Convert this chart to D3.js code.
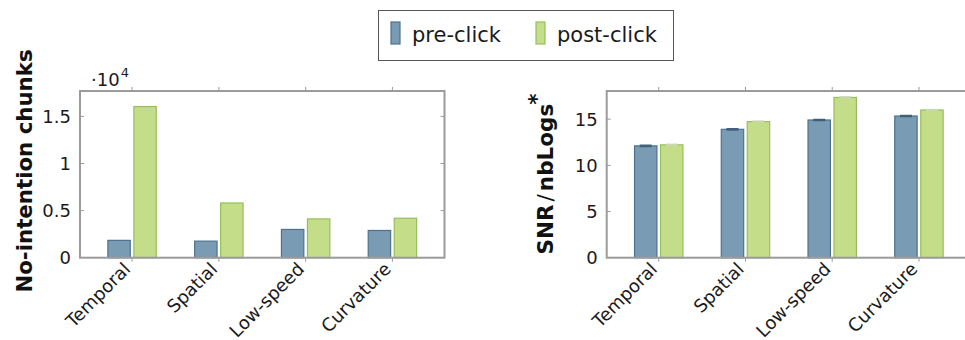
<!DOCTYPE html>
<html>
<head>
<meta charset="utf-8">
<script src="https://cdn.jsdelivr.net/npm/d3@7"></script>
<style>
  body { margin: 0; background: #fff; }
  svg { display: block; font-family: "DejaVu Sans", sans-serif; }
</style>
</head>
<body>
<svg id="chart" width="965" height="340"></svg>
<script>
// data
var categories = ["Temporal", "Spatial", "Low-speed", "Curvature"];
var seriesNames = ["pre-click", "post-click"];

// left: no-intention chunks (raw counts, axis shown in 10^4)
var chunksPre  = [1840, 1760, 3000, 2890];
var chunksPost = [16050, 5810, 4120, 4190];
var chunkTicks = [0, 5000, 10000, 15000];
var chunkTickLabels = ["0", "0.5", "1", "1.5"];

// right: SNR / nbLogs*
var snrPre  = [12.11, 13.90, 14.91, 15.34];
var snrPost = [12.22, 14.73, 17.35, 15.99];
var snrErrPre  = [0.07, 0.07, 0.06, 0.06];
var snrErrPost = [0.06, 0.06, 0.06, 0.05];
var snrTicks = [0, 5, 10, 15];

var fills   = ["#7a9bb4", "#c4dd89"];
var strokes = ["#4e7190", "#96bf5c"];
var capCols = ["#3f5f7a", "#c9d8ad"];

var svg = d3.select("#chart");

function drawPanel(opt) {
  var g = svg.append("g");
  var x = d3.scalePoint().domain(categories).range([opt.x0, opt.x1]).padding(0.6);
  var y = d3.scaleLinear().domain([0, opt.ymax]).range([opt.y1, opt.y0]);
  var off = [-13, 13], bw = 22.4;

  // bars
  [opt.pre, opt.post].forEach(function(vals, s) {
    g.selectAll(null).data(vals).enter().append("rect")
      .attr("x", function(d, i) { return x(categories[i]) + off[s] - bw / 2; })
      .attr("y", function(d) { return y(d); })
      .attr("width", bw)
      .attr("height", function(d) { return y(0) - y(d); })
      .attr("fill", fills[s])
      .attr("stroke", strokes[s])
      .attr("stroke-width", 1.2);
  });

  // error bars (only right panel)
  if (opt.err) {
    [opt.pre, opt.post].forEach(function(vals, s) {
      vals.forEach(function(d, i) {
        var cx = x(categories[i]) + off[s], e = opt.err[s][i];
        g.append("line").attr("x1", cx).attr("x2", cx)
          .attr("y1", y(d - e)).attr("y2", y(d + e))
          .attr("stroke", capCols[s]).attr("stroke-width", 1.2);
        [d - e, d + e].forEach(function(v) {
          g.append("line").attr("x1", cx - 6).attr("x2", cx + 6)
            .attr("y1", y(v)).attr("y2", y(v))
            .attr("stroke", capCols[s]).attr("stroke-width", 1.4);
        });
      });
    });
  }

  // frame
  g.append("rect").attr("x", opt.x0).attr("y", opt.y0)
    .attr("width", opt.x1 - opt.x0).attr("height", opt.y1 - opt.y0)
    .attr("fill", "none").attr("stroke", "#9b9b9b").attr("stroke-width", 2);

  // category ticks, outward on top and bottom
  categories.forEach(function(c) {
    g.append("line").attr("x1", x(c)).attr("x2", x(c)).attr("y1", opt.y1).attr("y2", opt.y1 + 4)
      .attr("stroke", "#9b9b9b").attr("stroke-width", 1);
    g.append("line").attr("x1", x(c)).attr("x2", x(c)).attr("y1", opt.y0).attr("y2", opt.y0 - 4)
      .attr("stroke", "#9b9b9b").attr("stroke-width", 1);
  });

  // y ticks, inward on both sides
  opt.ticks.forEach(function(t) {
    if (t === 0) return;
    g.append("line").attr("x1", opt.x0).attr("x2", opt.x0 + 4).attr("y1", y(t)).attr("y2", y(t))
      .attr("stroke", "#9b9b9b").attr("stroke-width", 1);
    g.append("line").attr("x1", opt.x1).attr("x2", opt.x1 - 4).attr("y1", y(t)).attr("y2", y(t))
      .attr("stroke", "#9b9b9b").attr("stroke-width", 1);
  });

  // y tick labels
  g.selectAll(null).data(opt.ticks).enter().append("text")
    .attr("x", opt.x0 - 9)
    .attr("y", function(d) { return y(d); })
    .attr("dy", "0.36em")
    .attr("text-anchor", "end")
    .attr("font-size", 18)
    .attr("fill", "#1a1a1a")
    .text(function(d, i) { return opt.tickLabels[i]; });

  // x tick labels, rotated
  g.selectAll(null).data(categories).enter().append("text")
    .attr("transform", function(d) { return "translate(" + (x(d) - 5) + "," + (opt.y1 + 8) + ") rotate(-45)"; })
    .attr("text-anchor", "end")
    .attr("dy", "0.36em")
    .attr("font-size", 18)
    .attr("fill", "#1a1a1a")
    .text(function(d) { return d; });

  return g;
}

var left = drawPanel({
  x0: 80, x1: 444.5, y0: 91, y1: 257.7, ymax: 17700,
  pre: chunksPre, post: chunksPost, ticks: chunkTicks, tickLabels: chunkTickLabels
});
var right = drawPanel({
  x0: 606.7, x1: 971, y0: 91, y1: 257.7, ymax: 18.05,
  pre: snrPre, post: snrPost, err: [snrErrPre, snrErrPost],
  ticks: snrTicks, tickLabels: snrTicks.map(String)
});

// scale factor label
var sc = left.append("text").attr("x", 91).attr("y", 86).attr("font-size", 18).attr("fill", "#1a1a1a");
sc.append("tspan").text("\u00b710");
sc.append("tspan").attr("dy", -9).attr("dx", 1).attr("font-size", 13).text("4");

// axis titles
svg.append("text")
  .attr("transform", "translate(32,171) rotate(-90)")
  .attr("text-anchor", "middle")
  .attr("font-size", 21.3).attr("font-weight", "bold").attr("fill", "#111")
  .text("No-intention chunks");

var rt = svg.append("text")
  .attr("transform", "translate(553,174) rotate(-90)")
  .attr("text-anchor", "middle")
  .attr("font-size", 21.5).attr("font-weight", "bold").attr("fill", "#111");
rt.append("tspan").text("SNR");
rt.append("tspan").attr("font-weight", "normal").attr("dx", 3).text("/");
rt.append("tspan").attr("dx", 3).text("nbLogs");
rt.append("tspan").attr("dy", -9).attr("dx", -1).text("*");

// legend
var lg = svg.append("g");
lg.append("rect").attr("x", 378.5).attr("y", 10.5).attr("width", 295).attr("height", 50)
  .attr("fill", "#fff").attr("stroke", "#555").attr("stroke-width", 1);
var legX = [391, 536];
seriesNames.forEach(function(n, s) {
  lg.append("rect").attr("x", legX[s]).attr("y", 22).attr("width", 9).attr("height", 22)
    .attr("fill", fills[s]).attr("stroke", strokes[s]).attr("stroke-width", 1.2);
  lg.append("text").attr("x", legX[s] + 21).attr("y", 42)
    .attr("font-size", 21).attr("fill", "#1a1a1a").text(n);
});
</script>
</body>
</html>
